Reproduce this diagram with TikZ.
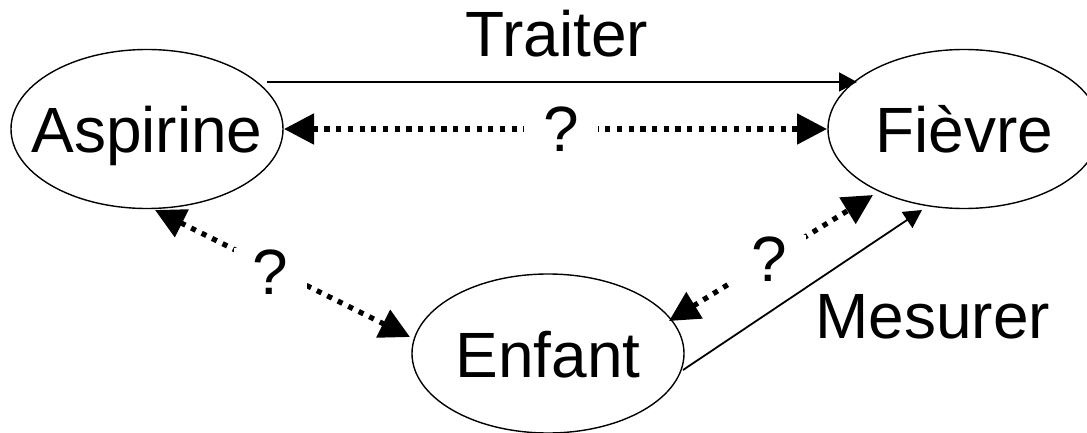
\documentclass[tikz,border=0pt]{standalone}
\usepackage{fontspec}
\setmainfont{Liberation Sans}
\usetikzlibrary{arrows.meta,shapes.geometric,calc}
\newcommand{\ellabel}[1]{\makebox[0pt]{\smash{\raisebox{-24pt}{#1}}}}
\begin{document}
\begin{tikzpicture}[x=1pt,y=1pt,
  bigfont/.style={font=\fontsize{64}{70}\selectfont},
  ell/.style={ellipse, draw, line width=1.4pt, minimum width=272pt, minimum height=159pt, inner sep=0pt, bigfont},
  solidarrow/.style={line width=1.8pt, -{Triangle[length=18pt,width=19pt]}},
  dotarrow/.style={line width=5.2pt, dash pattern=on 5.2pt off 6.5pt,
    {Triangle[length=30pt,width=30pt]}-{Triangle[length=30pt,width=30pt]}},
  qlabel/.style={fill=white, inner xsep=19pt, inner ysep=2pt, bigfont},
  lbl/.style={bigfont, inner sep=0pt, anchor=base}]
\useasboundingbox (0,0) rectangle (1087,432);
\node[ell] (A) at (147,303) {\ellabel{Aspirine}};
\node[ell] (F) at (964,303) {\ellabel{Fièvre}};
\node[ell] (E) at (548,78.5) {\ellabel{Enfant}};
\node[lbl] (traiter) at (557,375) {Traiter};
\node[lbl, anchor=base west] (mesurer) at (815,94) {Mesurer};
% solid arrows
\draw[solidarrow] ($(A)+(120,47)$) -- ($(F)+(-107,47)$);
\draw[solidarrow] ($(E)+(135,-16.5)$) -- ($(F)+(-42,-81)$);
% dotted double arrows
\draw[dotarrow] ($(A)+(137,0)$) -- node[qlabel, pos=0.51] (q1) {?} ($(F)+(-137,0)$);
\draw[dotarrow] ($(A)+(8,-81)$) -- node[qlabel, pos=0.46, xshift=-2pt, yshift=-4pt] (q2) {?} ($(E)+(-138,16.5)$);
\draw[dotarrow] ($(E)+(121,32.5)$) -- node[qlabel, pos=0.49] (q3) {?} ($(F)+(-91,-66)$);
\end{tikzpicture}
\end{document}
